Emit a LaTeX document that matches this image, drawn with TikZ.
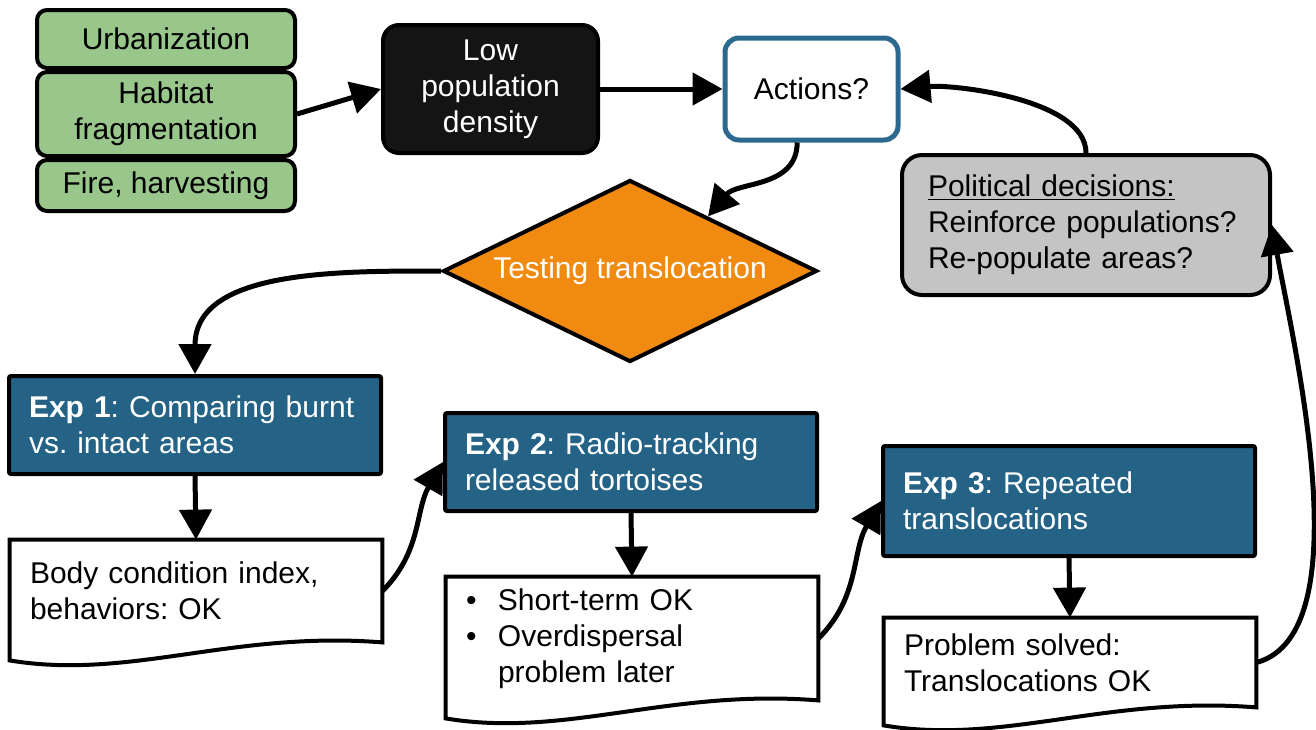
\documentclass[tikz,border=0pt]{standalone}
\usepackage{fontspec}
\setmainfont{Liberation Sans}
\usepackage{xcolor}
\usepackage{tikz}
\usetikzlibrary{shapes.geometric, arrows.meta, positioning}

\definecolor{causegreen}{HTML}{98C68B}
\definecolor{expblue}{HTML}{246386}
\definecolor{actionblue}{HTML}{2B6A8E}
\definecolor{testorange}{HTML}{F08A10}
\definecolor{decisiongray}{HTML}{C4C4C4}

\tikzset{
  every node/.style={font=\fontsize{15pt}{18pt}\selectfont\frenchspacing},
  boxline/.style={draw=black, line width=2pt},
  cause/.style={boxline, fill=causegreen, rounded corners=5pt, minimum width=129pt, inner sep=0pt, align=center},
  density/.style={boxline, fill=black!92, text=white, rounded corners=8pt, minimum width=107.5pt, minimum height=64pt, inner sep=0pt, align=center},
  actionbox/.style={draw=actionblue, line width=2.5pt, fill=white, rounded corners=7pt, minimum width=86.5pt, minimum height=51pt, inner sep=0pt},
  testbox/.style={boxline, fill=testorange, text=white, shape=diamond, aspect=2, minimum width=187pt, minimum height=91pt, inner sep=0pt},
  decision/.style={boxline, fill=decisiongray, rounded corners=10pt, text width=158pt, inner xsep=13pt, minimum height=70pt, align=left},
  experiment/.style={boxline, fill=expblue, text=white, rounded corners=1pt, text width=166pt, inner xsep=10pt, align=left},
  result/.style={text width=166pt, inner xsep=10pt, inner ysep=0pt, align=left},
  arr/.style={line width=2.5pt, -{Triangle[length=15pt, width=16pt]}},
}

% outline of a document node, wavy bottom
\newcommand{\docoutline}[1]{%
  \draw[boxline] (#1.north west) -- (#1.north east) -- (#1.south east)
    .. controls +(-150,-12) and +(120,20) .. ([yshift=-9pt]#1.south west) -- cycle;}

\begin{document}
\begin{tikzpicture}[x=0.5pt, y=-0.5pt]
    \useasboundingbox (0,0) rectangle (1316,729);

    % Causes
    \node[cause, minimum height=29pt] (urban) at (166,39) {Urbanization};
    \node[cause, minimum height=42pt] (habitat) at (166,114) {Habitat\\fragmentation};
    \node[cause, minimum height=25.5pt] (fire) at (166,185.5) {Fire, harvesting};

    % Top row
    \node[density] (lowpop) at (490.5,89) {Low\\population\\density};
    \node[actionbox] (actions) at (811.5,89) {Actions?};
    \node[testbox] (test) at (630,271) {Testing translocation};
    \node[decision] (political) at (1086,225)
        {\underline{Political decisions:}\\Reinforce populations?\\Re-populate areas?};

    % Experiments
    \node[experiment, minimum height=49pt] (exp1) at (195,425) {\textbf{Exp 1}: Comparing burnt\\vs. intact areas};
    \node[experiment, minimum height=49pt] (exp2) at (631,462) {\textbf{Exp 2}: Radio-tracking\\released tortoises};
    \node[experiment, minimum height=55pt] (exp3) at (1069,501) {\textbf{Exp 3}: Repeated\\translocations};

    % Results
    \node[result, minimum height=51pt] (doc1) at (196,591) {Body condition index,\\behaviors: OK};
    \node[result, minimum height=61.5pt] (doc2) at (632,638.5)
        {\makebox[16pt][l]{\textbullet}Short-term OK\\\makebox[16pt][l]{\textbullet}Overdispersal\\\hspace*{16pt}problem later};
    \node[result, minimum height=44.5pt] (doc3) at (1070,662.5) {Problem solved:\\Translocations OK};
    \docoutline{doc1}
    \docoutline{doc2}
    \docoutline{doc3}

    % Arrows
    \draw[arr] (habitat.east) -- (lowpop.west);
    \draw[arr] (lowpop.east) -- (actions.west);
    \draw[arr] (actions.-105) to[out=-90, in=50] (test.35);
    \draw[arr] (test.west) to[out=180, in=90] (exp1.north);
    \draw[arr] (political.north) to[out=90, in=5, looseness=0.7] (actions.east);
    \draw[arr] (exp1.south) -- (doc1.north);
    \draw[arr] (exp2.south) -- (doc2.north);
    \draw[arr] (exp3.south) -- (doc3.north);
    \draw[arr] (doc1.east) to[out=45, in=-120] (exp2.west);
    \draw[arr] (doc2.east) to[out=45, in=-120] (exp3.west);
    \draw[arr] (doc3.east) to[out=15, in=-80, looseness=0.65] (political.east);

\end{tikzpicture}
\end{document}
